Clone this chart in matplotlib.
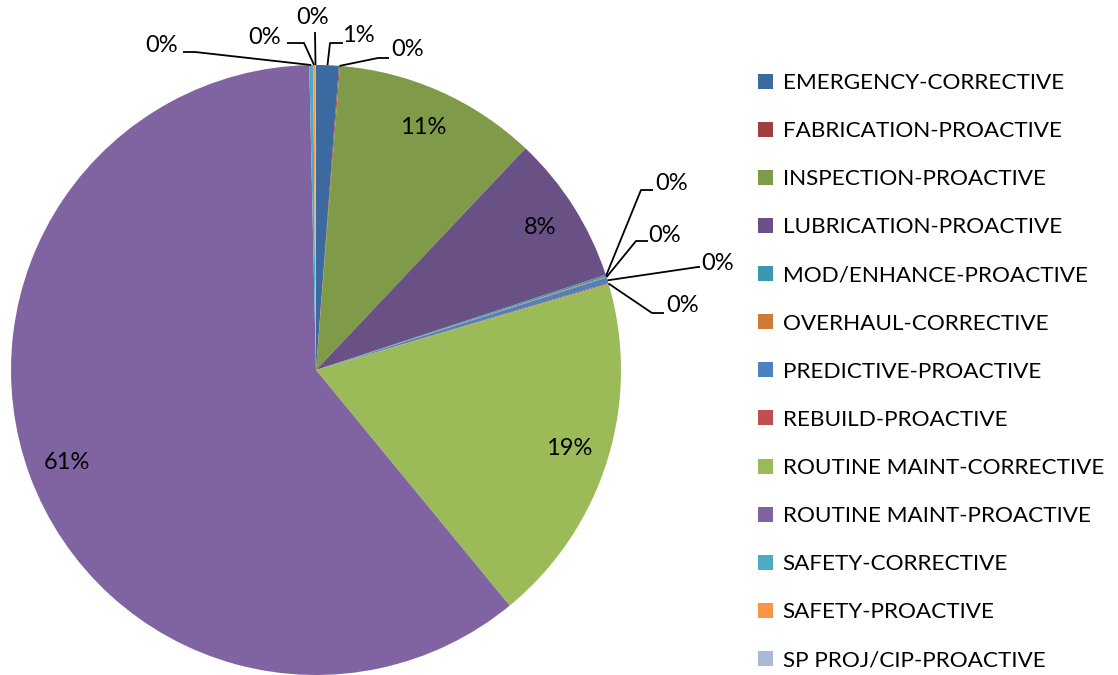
import numpy as np
import matplotlib.pyplot as plt

plt.rcParams['font.family'] = ['Lato', 'DejaVu Sans']

categories = ["EMERGENCY-CORRECTIVE", "FABRICATION-PROACTIVE", "INSPECTION-PROACTIVE",
              "LUBRICATION-PROACTIVE", "MOD/ENHANCE-PROACTIVE", "OVERHAUL-CORRECTIVE",
              "PREDICTIVE-PROACTIVE", "REBUILD-PROACTIVE", "ROUTINE MAINT-CORRECTIVE",
              "ROUTINE MAINT-PROACTIVE", "SAFETY-CORRECTIVE", "SAFETY-PROACTIVE",
              "SP PROJ/CIP-PROACTIVE"]
shares = [1.2, 0.05, 10.8, 7.9, 0.1, 0.05, 0.3, 0.05, 18.6, 60.6, 0.2, 0.1, 0.05]
colors = ["#3C6AA0", "#A0403E", "#7F9A48", "#6A5185", "#3C98AE", "#D07A35", "#4F81BD",
          "#C0504D", "#9BBB59", "#8064A2", "#4BACC6", "#F79646", "#A9B9D7"]

# label layout for the tiny slices (pixels): text centre, elbow, end of leader
W, H = 1118, 675
CX, CY, R = 316, 370, 305
small_labels = {
    0: ((358, 35), (330, 43), (343, 43)),
    1: ((408, 50), (378, 58), (389, 58)),
    4: ((672, 183), (641, 190), (653, 190)),
    5: ((665, 235), (636, 241), (648, 241)),
    6: ((718, 263), (698, 267), (700, 267)),
    7: ((683, 305), (652, 313), (664, 313)),
    10: ((162, 46), (195, 52), (183, 52)),
    11: ((265, 38), (304, 43), (287, 43)),
    12: ((313, 17), (315, 32), (315, 32)),
}
FS = 16.2
PFS = 17


def px(p):
    return ((p[0] - CX) / R, (CY - p[1]) / R)


fig = plt.figure(figsize=(W / 100, H / 100), dpi=100)
ax = fig.add_axes([(CX - R) / W, (H - CY - R) / H, 2 * R / W, 2 * R / H])
wedges, _ = ax.pie(shares, colors=colors, startangle=90, counterclock=False,
                   radius=1, wedgeprops=dict(linewidth=0))
ax.set_xlim(-1, 1)
ax.set_ylim(-1, 1)
ax.set_aspect('equal')
ax.axis('off')

total = sum(shares)
cum = np.cumsum([0] + shares)
for i, v in enumerate(shares):
    mid = (cum[i] + v / 2) / total * 2 * np.pi  # clockwise from 12 o'clock
    txt = "%d%%" % round(v / total * 100)
    if i in small_labels:
        tpos, elbow, end = small_labels[i]
        e = (np.sin(mid), np.cos(mid))
        pts = [e, px(elbow), px(end)]
        ax.plot([p[0] for p in pts], [p[1] for p in pts], color='black', lw=1.3,
                clip_on=False, solid_capstyle='butt')
        t = px(tpos)
        ax.text(t[0], t[1], txt, ha='center', va='center', fontsize=PFS, clip_on=False)
    else:
        r = 0.87
        ax.text(r * np.sin(mid), r * np.cos(mid), txt, ha='center', va='center', fontsize=PFS)

fig.legend(wedges, categories, loc='upper left', bbox_to_anchor=(758 / W, 1 - 73 / H),
           frameon=False, fontsize=FS, handlelength=0.65, handleheight=0.65,
           handletextpad=0.45, labelspacing=1.25, borderaxespad=0, borderpad=0)

fig.savefig('out.png', dpi=100)
